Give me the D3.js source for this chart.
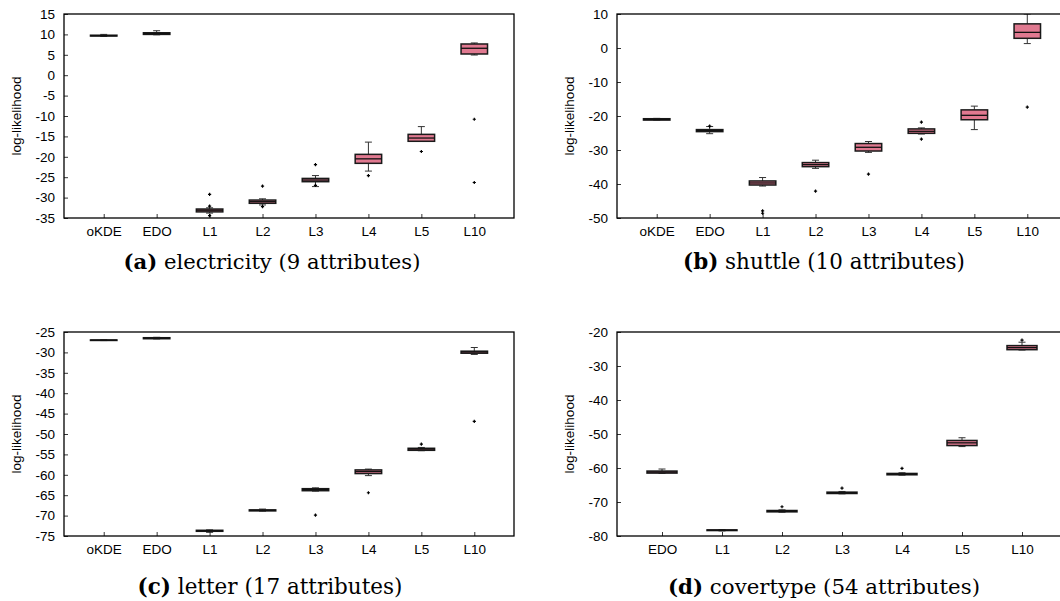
<!DOCTYPE html>
<html>
<head>
<meta charset="utf-8">
<script src="https://cdn.jsdelivr.net/npm/d3@7"></script>
<style>
  body { margin: 0; background: #fff; }
  svg { display: block; }
  .tick text { font-family: "Liberation Sans", Arial, sans-serif; font-size: 13.5px; fill: #000; }
  .ylab { font-family: "Liberation Sans", Arial, sans-serif; font-size: 13.5px; }
  .cap { font-family: "DejaVu Serif", serif; font-size: 17px; }
</style>
</head>
<body>
<div id="chart"></div>
<script>
// (a) electricity
const catsA = ['oKDE', 'EDO', 'L1', 'L2', 'L3', 'L4', 'L5', 'L10'];
const loA  = [9.5, 9.9, -33.8, -31.8, -27.3, -23.5, -16.2, 4.95];
const q1A  = [9.6, 10.0, -33.5, -31.4, -26.1, -21.6, -16.2, 5.2];
const medA = [9.7, 10.2, -33.1, -31.0, -25.7, -20.5, -15.4, 6.6];
const q3A  = [9.8, 10.4, -32.8, -30.6, -25.3, -19.4, -14.5, 7.65];
const hiA  = [10.0, 10.9, -32.5, -30.3, -24.6, -16.4, -12.6, 7.9];
const outA = [[], [], [-29.2, -32.1, -34.4], [-27.2, -32.2], [-21.9, -27.0], [-24.6], [-18.7], [-10.8, -26.3]];

// (b) shuttle
const catsB = ['oKDE', 'EDO', 'L1', 'L2', 'L3', 'L4', 'L5', 'L10'];
const loB  = [-21.2, -25.2, -40.6, -35.4, -30.7, -25.3, -24.0, 1.3];
const q1B  = [-21.2, -24.6, -40.3, -34.9, -30.3, -25.1, -21.1, 2.85];
const medB = [-21.0, -24.3, -39.7, -34.3, -29.2, -24.5, -19.8, 4.6];
const q3B  = [-20.8, -24.0, -39.1, -33.7, -28.1, -23.8, -18.2, 7.1];
const hiB  = [-20.7, -23.1, -38.1, -33.0, -27.5, -23.5, -17.1, 10.0];
const outB = [[], [-23.0], [-47.9, -48.6], [-42.1], [-37.1], [-21.8, -26.8], [], [-17.4]];

// (c) letter
const catsC = ['oKDE', 'EDO', 'L1', 'L2', 'L3', 'L4', 'L5', 'L10'];
const loC  = [-27.1, -26.7, -74.1, -68.9, -64.0, -60.2, -54.1, -30.5];
const q1C  = [-27.05, -26.65, -73.85, -68.85, -63.9, -59.7, -54.0, -30.2];
const medC = [-27.0, -26.5, -73.7, -68.7, -63.6, -59.2, -53.7, -29.9];
const q3C  = [-26.95, -26.4, -73.6, -68.6, -63.4, -58.8, -53.5, -29.7];
const hiC  = [-26.9, -26.3, -73.5, -68.4, -63.2, -58.6, -53.3, -28.8];
const outC = [[], [], [], [], [-69.9], [-64.4], [-52.5], [-46.9]];

// (d) covertype
const catsD = ['EDO', 'L1', 'L2', 'L3', 'L4', 'L5', 'L10'];
const loD  = [-61.6, -78.5, -73.0, -67.6, -62.1, -53.7, -25.3];
const q1D  = [-61.5, -78.4, -72.9, -67.5, -62.0, -53.4, -25.2];
const medD = [-61.2, -78.3, -72.7, -67.3, -61.8, -52.6, -24.6];
const q3D  = [-60.9, -78.2, -72.5, -67.1, -61.6, -51.9, -24.0];
const hiD  = [-60.3, -78.1, -72.3, -66.9, -61.4, -51.1, -23.0];
const outD = [[], [], [-71.4], [-65.9], [-60.1], [], [-22.4]];

const panels = [
  { cats: catsA, lo: loA, q1: q1A, med: medA, q3: q3A, hi: hiA, out: outA, ymin: -35, ymax: 15, step: 5,
    x0: 64, y0: 14, cap: ['(a)', ' electricity (9 attributes)'], capX: 272, capY: 269, capW: 297 },
  { cats: catsB, lo: loB, q1: q1B, med: medB, q3: q3B, hi: hiB, out: outB, ymin: -50, ymax: 10, step: 10,
    x0: 617, y0: 14, cap: ['(b)', ' shuttle (10 attributes)'], capX: 824, capY: 269, capW: 282 },
  { cats: catsC, lo: loC, q1: q1C, med: medC, q3: q3C, hi: hiC, out: outC, ymin: -75, ymax: -25, step: 5,
    x0: 64, y0: 332, cap: ['(c)', ' letter (17 attributes)'], capX: 270, capY: 594, capW: 265 },
  { cats: catsD, lo: loD, q1: q1D, med: medD, q3: q3D, hi: hiD, out: outD, ymin: -80, ymax: -20, step: 10,
    x0: 617, y0: 332, cap: ['(d)', ' covertype (54 attributes)'], capX: 824, capY: 594, capW: 312 }
];

const W = 1060, H = 601;
const pw = 450, ph = 204;
const boxFill = '#e07990';

const svg = d3.select('#chart').append('svg').attr('width', W).attr('height', H);

panels.forEach(p => {
  const g = svg.append('g').attr('transform', `translate(${p.x0},${p.y0})`);

  const x = d3.scalePoint().domain(p.cats).range([0, pw]).padding(0.75);
  const y = d3.scaleLinear().domain([p.ymin, p.ymax]).range([ph, 0]);
  const bw = x.step() * 0.5;

  const yTicks = d3.range(p.ymin, p.ymax + 0.001, p.step);

  // axes with inward ticks
  const yAxis = g.append('g')
    .call(d3.axisLeft(y).tickValues(yTicks).tickSize(-4).tickPadding(9).tickFormat(d => String(d)));
  const xAxis = g.append('g').attr('transform', `translate(0,${ph})`)
    .call(d3.axisBottom(x).tickSize(-4).tickPadding(8));
  [yAxis, xAxis].forEach(a => {
    a.select('.domain').remove();
    a.selectAll('.tick line').attr('stroke', '#000').attr('stroke-width', 0.8);
  });

  const clip = 'clip' + p.x0 + '_' + p.y0;
  g.append('clipPath').attr('id', clip).append('rect').attr('width', pw).attr('height', ph);
  const body = g.append('g').attr('clip-path', `url(#${clip})`);

  p.cats.forEach((c, i) => {
    const cx = x(c);
    const bg = body.append('g');
    // whiskers
    bg.append('line').attr('x1', cx).attr('x2', cx).attr('y1', y(p.hi[i])).attr('y2', y(p.q3[i]))
      .attr('stroke', '#333').attr('stroke-width', 1);
    bg.append('line').attr('x1', cx).attr('x2', cx).attr('y1', y(p.lo[i])).attr('y2', y(p.q1[i]))
      .attr('stroke', '#333').attr('stroke-width', 1);
    [p.hi[i], p.lo[i]].forEach(v => {
      bg.append('line').attr('x1', cx - 3.5).attr('x2', cx + 3.5).attr('y1', y(v)).attr('y2', y(v))
        .attr('stroke', '#333').attr('stroke-width', 1);
    });
    // box
    bg.append('rect')
      .attr('x', cx - bw / 2).attr('width', bw)
      .attr('y', y(p.q3[i])).attr('height', Math.max(0.5, y(p.q1[i]) - y(p.q3[i])))
      .attr('fill', boxFill).attr('stroke', '#1a1a1a').attr('stroke-width', 1.5);
    bg.append('line').attr('x1', cx - bw / 2).attr('x2', cx + bw / 2)
      .attr('y1', y(p.med[i])).attr('y2', y(p.med[i]))
      .attr('stroke', '#111').attr('stroke-width', 1.3);
    // outliers
    bg.selectAll('path.out').data(p.out[i]).join('path')
      .attr('class', 'out')
      .attr('transform', d => `translate(${cx},${y(d)})`)
      .attr('d', 'M-1.6,0H1.6M0,-1.6V1.6')
      .attr('stroke', '#000').attr('stroke-width', 1.2);
  });

  // frame
  g.append('rect').attr('width', pw).attr('height', ph)
    .attr('fill', 'none').attr('stroke', '#000').attr('stroke-width', 1.3);

  // y label
  g.append('text').attr('class', 'ylab')
    .attr('transform', `translate(${-43},${ph / 2}) rotate(-90)`)
    .attr('text-anchor', 'middle')
    .text('log-likelihood');

  // caption, font size fitted to the reference width
  const cap = svg.append('text').attr('class', 'cap')
    .attr('x', p.capX).attr('y', p.capY).attr('text-anchor', 'middle');
  cap.append('tspan').attr('font-weight', 'bold').text(p.cap[0]);
  cap.append('tspan').text(p.cap[1]);
  const w = cap.node().getComputedTextLength();
  cap.style('font-size', (17 * p.capW / w).toFixed(2) + 'px');
});
</script>
</body>
</html>
